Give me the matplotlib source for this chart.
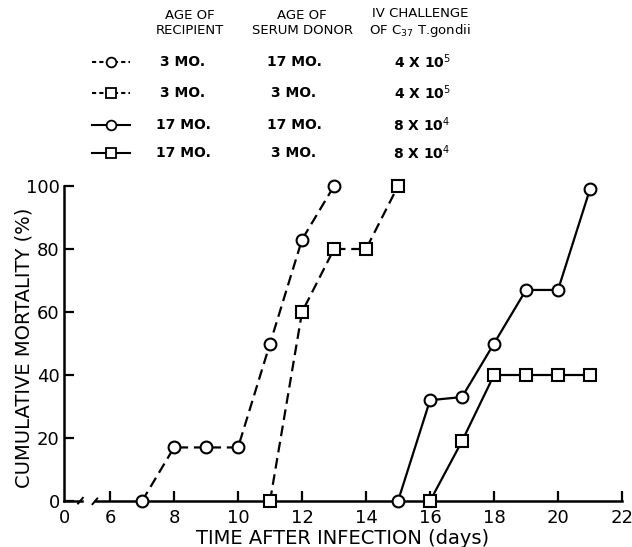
import matplotlib.pyplot as plt
from matplotlib.lines import Line2D

# data
days_a = [7, 8, 9, 10, 11, 12, 13]
mort_a = [0, 17, 17, 17, 50, 83, 100]      # 3 mo recipient, 17 mo donor
days_b = [11, 12, 13, 14, 15]
mort_b = [0, 60, 80, 80, 100]              # 3 mo recipient, 3 mo donor
days_c = [15, 16, 17, 18, 19, 20, 21]
mort_c = [0, 32, 33, 50, 67, 67, 99]       # 17 mo recipient, 17 mo donor
days_d = [16, 17, 18, 19, 20, 21]
mort_d = [0, 19, 40, 40, 40, 40]           # 17 mo recipient, 3 mo donor

recipient = ["3 MO.", "3 MO.", "17 MO.", "17 MO."]
donor = ["17 MO.", "3 MO.", "17 MO.", "3 MO."]
challenge = [r"4 X 10$^5$", r"4 X 10$^5$", r"8 X 10$^4$", r"8 X 10$^4$"]

x_ticks = [6, 8, 10, 12, 14, 16, 18, 20, 22]
y_ticks = [0, 20, 40, 60, 80, 100]
x_zero = 4.56   # where the "0" sits before the axis break

dash = (0, (4.8, 2.6))
series = [
    (days_a, mort_a, "o", dash),
    (days_b, mort_b, "s", dash),
    (days_c, mort_c, "o", "-"),
    (days_d, mort_d, "s", "-"),
]

plt.rcParams['font.family'] = ['DejaVu Sans']
fig = plt.figure(figsize=(6.32, 5.47), dpi=100)
ax = fig.add_axes([64 / 632, 46 / 547, 558 / 632, 315 / 547])

for xs, ys, mk, ls in series:
    ax.plot(xs, ys, color="black", linestyle=ls, linewidth=1.6,
            marker=mk, markersize=8.5 if mk == "o" else 8,
            markerfacecolor="white", markeredgewidth=1.5, clip_on=False, zorder=3)

ax.set_xlim(x_zero, 22)
ax.set_ylim(0, 100)
for s in ["top", "right", "bottom"]:
    ax.spines[s].set_visible(False)
ax.spines["left"].set_linewidth(1.8)

# broken x axis drawn by hand
kw = dict(color="black", linewidth=1.8, clip_on=False, zorder=2)
ax.plot([x_zero, 5.12], [0, 0], **kw)
ax.plot([5.53, 22], [0, 0], **kw)
ax.plot([5.0, 5.15], [-0.8, 1.0], color="black", linewidth=1.4, clip_on=False)
ax.plot([5.45, 5.6], [-1.0, 0.8], color="black", linewidth=1.4, clip_on=False)

ax.set_xticks([x_zero] + x_ticks)
ax.set_xticklabels(["0"] + [str(t) for t in x_ticks], fontsize=13)
ax.set_yticks(y_ticks)
ax.set_yticklabels([str(t) for t in y_ticks], fontsize=13)
ax.tick_params(axis="x", direction="in", length=7, width=1.6, pad=6)
ax.tick_params(axis="y", direction="in", length=7, width=1.6, pad=3)
ax.xaxis.get_major_ticks()[0].tick1line.set_visible(False)

ax.set_xlabel("TIME AFTER INFECTION (days)", fontsize=14)
ax.set_ylabel("CUMULATIVE MORTALITY (%)", fontsize=14)
ax.xaxis.set_label_coords(0.5, -0.088)
ax.yaxis.set_label_coords(-0.054, 0.485)

# legend table at the top
def fx(px):
    return px / 632

def fy(py):
    return 1 - py / 547

hdr = dict(fontsize=9.5, ha="center", va="center", linespacing=1.2)
fig.text(fx(190), fy(23), "AGE OF\nRECIPIENT", **hdr)
fig.text(fx(302), fy(23), "AGE OF\nSERUM DONOR", **hdr)
fig.text(fx(420), fy(23), "IV CHALLENGE\nOF C$_{37}$ T.gondii", **hdr)

row_y = [62, 93, 125, 153]
cell = dict(fontsize=10, fontweight="bold", ha="center", va="center")
for i, (xs, ys, mk, ls) in enumerate(series):
    y = fy(row_y[i])
    line_ls = (0, (2, 1.5)) if ls == dash else "-"
    fig.add_artist(Line2D([fx(92), fx(130)], [y, y], color="black", linewidth=1.5,
                          linestyle=line_ls))
    fig.add_artist(Line2D([fx(111)], [y], color="black", marker=mk, markersize=7,
                          markerfacecolor="white", markeredgewidth=1.3, linestyle="none"))
    fig.text(fx(183), y, recipient[i], **cell)
    fig.text(fx(294), y, donor[i], **cell)
    fig.text(fx(422), y, challenge[i], **cell)

fig.savefig("out.png", dpi=100)
